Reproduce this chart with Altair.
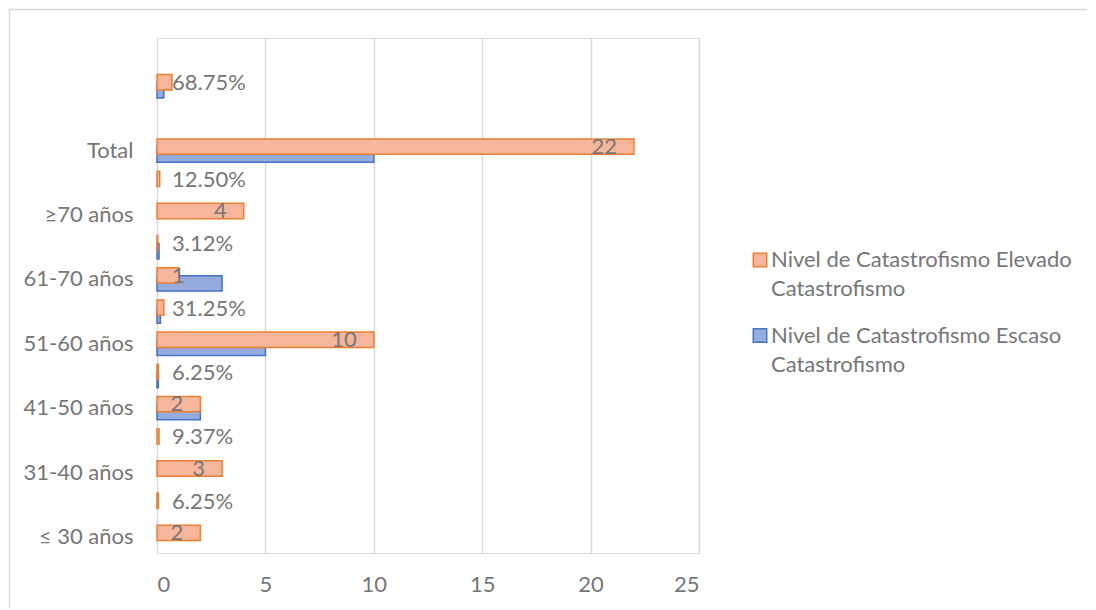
import altair as alt
import pandas as pd

# ---- data (rows listed bottom -> top) ----
row_ids = list(range(1, 17))
row_labels = ["≤ 30 años", "", "31-40 años", "", "41-50 años", "", "51-60 años", "",
              "61-70 años", "", "≥70 años", "", "Total", "", "", ""]
row_kind = ["n", "pct", "n", "pct", "n", "pct", "n", "pct",
            "n", "pct", "n", "pct", "n", "", "pct", ""]
elevado = [2, 0.0625, 3, 0.0937, 2, 0.0625, 10, 0.3125, 1, 0.0312, 4, 0.125, 22, None, 0.6875, None]
escaso = [0, 0, 0, 0, 2, 0.0625, 5, 0.1562, 3, 0.0937, 0, 0, 10, None, 0.3125, None]
series_names = ["Nivel de Catastrofismo Elevado Catastrofismo",
                "Nivel de Catastrofismo Escaso Catastrofismo"]
fill_colors = ["#F5B69C", "#96ABDD"]
stroke_colors = ["#ED7D31", "#4472C4"]
x_ticks = [0, 5, 10, 15, 20, 25]

FONT = "Lato"
FS = 22
TEXT = "#767676"
GRID = "#D9D9D9"

records = []
for i, rid in enumerate(row_ids):
    for s, vals in zip(series_names, [elevado, escaso]):
        v = vals[i]
        if v is None or v == 0:
            continue
        records.append({"row": rid, "kind": row_kind[i], "serie": s, "v": v})
df = pd.DataFrame(records)

label_arr = "[" + ",".join("'" + l + "'" for l in row_labels) + "]"

y_enc = alt.Y(
    "row:O",
    scale=alt.Scale(domain=row_ids[::-1], paddingInner=0, paddingOuter=0),
    axis=alt.Axis(title=None, labelExpr=label_arr + "[datum.value - 1]", domain=False,
                  ticks=False, grid=False, labelPadding=24, labelFontSize=FS,
                  labelColor=TEXT, labelFont=FONT, labelLimit=300),
)
x_enc = alt.X(
    "v:Q",
    scale=alt.Scale(domain=[0, 25], nice=False),
    axis=alt.Axis(title=None, values=x_ticks, grid=True, gridColor=GRID, gridWidth=1.5,
                  domain=False, ticks=False, labelPadding=21, labelFontSize=FS,
                  labelColor=TEXT, labelFont=FONT),
)
legend_kw = dict(
    title=None, orient="none", legendX=592, legendY=211,
    labelExpr="[slice(datum.label, 0, lastindexof(datum.label, ' ')), "
              "slice(datum.label, lastindexof(datum.label, ' ') + 1)]",
    labelFont=FONT, labelFontSize=FS, labelColor=TEXT,
    symbolType="square", symbolSize=180, symbolStrokeWidth=1.5,
    rowPadding=24.5, labelOffset=0, padding=0, labelLimit=500,
)
fill_enc = alt.Fill("serie:N", scale=alt.Scale(domain=series_names, range=fill_colors),
                    legend=alt.Legend(**legend_kw))
stroke_enc = alt.Stroke("serie:N", scale=alt.Scale(domain=series_names, range=stroke_colors),
                        legend=alt.Legend(**legend_kw))

base = alt.Chart(df)

bars_blue = base.transform_filter(alt.datum.serie == series_names[1]).mark_bar(
    size=15.4, yOffset=4, strokeWidth=1.5
).encode(x=x_enc, y=y_enc, fill=fill_enc, stroke=stroke_enc)

bars_orange = base.transform_filter(alt.datum.serie == series_names[0]).mark_bar(
    size=15.4, yOffset=-4, strokeWidth=1.5
).encode(x=x_enc, y=y_enc, fill=fill_enc, stroke=stroke_enc)

lab = base.transform_filter(alt.datum.serie == series_names[0]).transform_calculate(
    lab="datum.kind == 'pct' ? format(datum.v, '.2%') : format(datum.v, 'd')",
    x0="0",
)
big = lab.transform_filter("datum.v >= 2").mark_text(
    align="right", dx=-17, yOffset=-4, font=FONT, fontSize=FS, color=TEXT
).encode(x="v:Q", y=y_enc, text="lab:N")
small = lab.transform_filter("datum.v < 2").mark_text(
    align="left", dx=15, yOffset=-3, font=FONT, fontSize=FS, color=TEXT
).encode(x="x0:Q", y=y_enc, text="lab:N")

one = pd.DataFrame({"a": [0]})
border_top = alt.Chart(one).mark_rule(color=GRID, strokeWidth=1.5).encode(
    x=alt.value(-147.5), x2=alt.value(930), y=alt.value(-28.5))
border_left = alt.Chart(one).mark_rule(color=GRID, strokeWidth=1.5).encode(
    x=alt.value(-147.5), y=alt.value(-28.5), y2=alt.value(570))

chart = alt.layer(border_top, border_left, bars_blue, bars_orange, big, small).properties(
    width=542, height=515, padding={"left": 0, "top": 0, "right": 0, "bottom": 0}
).configure_view(stroke=None).configure(style={"guide-label": {"lineHeight": 29}})

chart.save("out.html", embed_options={"renderer": "svg", "actions": False})
